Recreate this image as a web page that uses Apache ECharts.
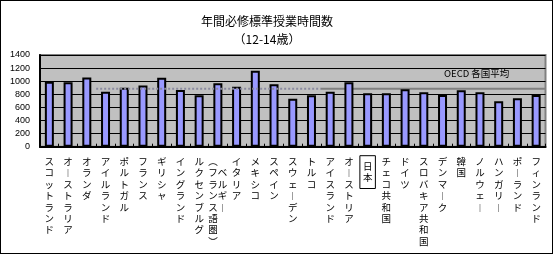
<!DOCTYPE html>
<html>
<head>
<meta charset="utf-8">
<script src="https://cdn.jsdelivr.net/npm/echarts@6/dist/echarts.min.js"></script>
<style>
  html, body { margin: 0; padding: 0; background: #fff; }
  #frame { position: absolute; left: 0; top: 0; width: 551px; height: 252px; border: 1px solid #000; }
  #chart { width: 551px; height: 252px; }
</style>
</head>
<body>
<div id="frame"><div id="chart"></div></div>
<script>
// ---- data ----
const categories = [
  'スコットランド', 'オーストラリア', 'オランダ', 'アイルランド', 'ポルトガル',
  'フランス', 'ギリシャ', 'イングランド', 'ルクセンブルグ', 'ベルギー（フランス語圏）',
  'イタリア', 'メキシコ', 'スペイン', 'スウェーデン', 'トルコ',
  'アイスランド', 'オーストリア', '日本', 'チェコ共和国', 'ドイツ',
  'スロバキア共和国', 'デンマーク', '韓国', 'ノルウェー', 'ハンガリー',
  'ポーランド', 'フィンランド'
];
const hours = [
  990, 983, 1057, 840, 901,
  935, 1053, 866, 785, 968,
  916, 1160, 953, 733, 785,
  840, 983, 815, 815, 876,
  830, 789, 861, 830, 693,
  739, 789
];
const oecdAverage = 883;
const oecdLabel = 'OECD 各国平均';
const highlighted = '日本';
const yTicks = [0, 200, 400, 600, 800, 1000, 1200, 1400];
const titleLines = ['年間必修標準授業時間数', '（12-14歳）'];
// average line spans (in category units): dashed part then solid part
const avgDashedSpan = [3, 15];
const avgSolidSpan = [15, 27];

// ---- vertical label helper ----
const vmap = { 'ー': '︱', '（': '︵', '）': '︶' };
function vchars(s) { return Array.from(s).map(c => vmap[c] || c); }
function verticalLabel(name) {
  const p = name.indexOf('（');
  if (p >= 0) {
    const right = vchars(name.slice(0, p));
    const left = vchars(name.slice(p));
    const n = Math.max(left.length, right.length + 1);
    const lines = [];
    for (let i = 0; i < n; i++) {
      const l = left[i] || '\u3000';
      const r = (i >= 1 && right[i - 1]) ? right[i - 1] : '\u3000';
      lines.push(l + r);
    }
    return lines.join('\n');
  }
  return vchars(name).join('\n');
}

const chart = echarts.init(document.getElementById('chart'), null, { renderer: 'canvas' });
const cjk = '"Noto Sans CJK JP", "Noto Sans", sans-serif';

const option = {
  animation: false,
  title: {
    text: titleLines.join('\n'),
    left: 261,
    top: 6,
    textAlign: 'center',
    textStyle: { fontFamily: cjk, fontSize: 12, fontWeight: 'normal', color: '#000', lineHeight: 18 }
  },
  grid: {
    left: 39, right: 6.5, top: 54, bottom: 106.3,
    show: true, backgroundColor: '#c0c0c0', borderColor: '#808080', borderWidth: 2
  },
  xAxis: [
    {
      type: 'category',
      data: categories.map(c => c === highlighted ? {
        value: c,
        textStyle: { borderColor: '#000', borderWidth: 1, padding: [5, 3, 5, 3] }
      } : c),
      axisLine: { lineStyle: { color: '#000', width: 2 } },
      axisTick: { show: true, inside: true, length: 3, lineStyle: { color: '#000', width: 1 } },
      axisLabel: {
        interval: 0,
        margin: 9,
        fontFamily: cjk,
        fontSize: 9.5,
        lineHeight: 11.4,
        color: '#000',
        verticalAlign: 'top',
        formatter: verticalLabel
      },
      splitLine: { show: false }
    },
    { type: 'value', min: 0, max: categories.length, show: false }
  ],
  yAxis: {
    type: 'value',
    min: yTicks[0],
    max: yTicks[yTicks.length - 1],
    interval: yTicks[1] - yTicks[0],
    axisLine: { show: true, lineStyle: { color: '#000', width: 2 } },
    axisTick: { show: false },
    axisLabel: {
      margin: 10, fontFamily: '"Liberation Sans", Arial, sans-serif', fontSize: 9, color: '#000',
      formatter: v => String(v)
    },
    splitLine: { show: true, lineStyle: { color: '#000', width: 1 } }
  },
  series: [
    {
      type: 'bar',
      data: hours,
      barWidth: 9,
      itemStyle: { color: '#9999ff', borderColor: '#000', borderWidth: 2 },
      z: 3
    },
    {
      type: 'line',
      xAxisIndex: 1,
      data: [[avgDashedSpan[0], oecdAverage], [avgDashedSpan[1], oecdAverage]],
      symbol: 'none',
      lineStyle: { color: '#8a8aa0', width: 2, type: [2, 2] },
      z: 4
    },
    {
      type: 'line',
      xAxisIndex: 1,
      data: [[avgSolidSpan[0], oecdAverage], [avgSolidSpan[1], oecdAverage]],
      symbol: 'none',
      lineStyle: { color: '#808080', width: 2 },
      z: 2
    }
  ],
  graphic: [
    {
      type: 'text',
      left: 443,
      top: 68,
      style: { text: oecdLabel, font: '9.5px ' + cjk, fill: '#000' }
    }
  ]
};
chart.setOption(option);
</script>
</body>
</html>
